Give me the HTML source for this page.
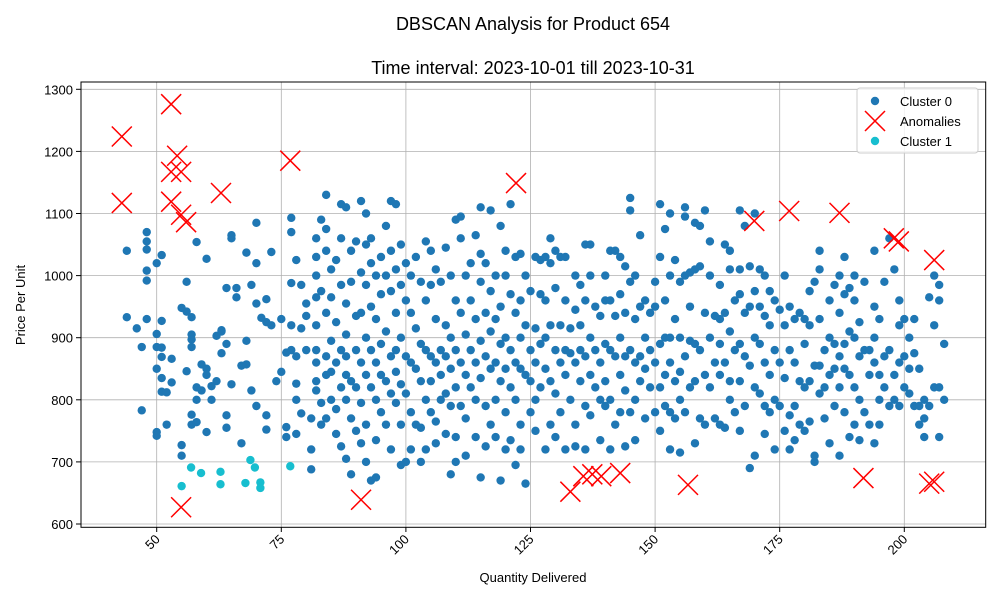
<!DOCTYPE html>
<html><head><meta charset="utf-8"><style>
body{margin:0;background:#fff;}
svg{display:block;font-family:"Liberation Sans","DejaVu Sans",sans-serif;}
</style></head><body>
<svg id="chart" width="1000" height="600" viewBox="0 0 1000 600" xmlns="http://www.w3.org/2000/svg">
<rect width="1000" height="600" fill="#fff"/>
<text x="533" y="30" text-anchor="middle" font-size="18" fill="#000">DBSCAN Analysis for Product 654</text>
<text x="533" y="74" text-anchor="middle" font-size="18" fill="#000">Time interval: 2023-10-01 till 2023-10-31</text>
<g id="grid"></g>
<g id="marks"></g>
<rect x="81" y="82" width="904.7" height="445.3" fill="none" stroke="#000" stroke-width="1"/>
<g id="axes"></g>
<text x="533" y="582" text-anchor="middle" font-size="13">Quantity Delivered</text>
<text transform="translate(25,305) rotate(-90)" text-anchor="middle" font-size="13">Price Per Unit</text>
<g>
<rect x="857" y="88" width="121" height="65" rx="3" fill="#fff" fill-opacity="0.8" stroke="#ccc"/>
<g><circle cx="875" cy="101" r="4.2" fill="#1f77b4"/><text x="900" y="106" font-size="13">Cluster 0</text></g>
<g><path d="M865,111 L885,131 M885,111 L865,131" stroke="red" stroke-width="1.5"/><text x="900" y="126" font-size="13">Anomalies</text></g>
<g><circle cx="875" cy="141" r="4.2" fill="#17becf"/><text x="900" y="146" font-size="13">Cluster 1</text></g>
</g>
</svg>
<script>
const xTicks=[50,75,100,125,150,175,200];
const yTicks=[600,700,800,900,1000,1100,1200,1300];
const c0x=[44,44,46,47,47,48,48,48,48,48,48,50,50,50,50,50,50,51,51,51,51,51,51,52,52,53,53,
55,56,57,56,55,55,56,57,57,57,57,57,58,58,58,58,59,59,60,60,60,60,61,61,62,62,63,63,63,64,64,64,64,65,65,65,66,66,67,67,68,68,68,69,69,70,70,70,70,71,72,72,72,72,73,73,74,75,75,76,76,76,77,77,77,77,77,78,78,78,78,78,79,79,79,80,80,80,81,81,81,
82,82,82,82,82,82,82,82,82,83,83,83,83,84,84,84,84,84,84,84,85,85,85,85,85,86,86,86,86,86,87,87,87,87,87,87,88,88,88,88,88,88,88,89,89,89,89,89,90,90,90,90,90,
91,91,91,91,91,91,92,92,92,92,92,92,92,93,93,93,93,93,93,94,94,94,94,94,94,95,95,95,95,95,96,96,96,96,96,97,97,97,97,97,97,98,98,98,98,98,98,99,99,99,99,99,99,100,100,100,100,100,
101,101,101,101,101,102,102,102,102,103,103,103,103,103,104,104,104,104,104,105,105,105,105,105,106,106,106,106,106,107,107,107,107,108,108,108,108,108,109,109,109,109,109,110,110,110,110,110,110,
111,111,111,111,111,112,112,112,112,112,113,113,113,113,114,114,114,114,114,115,115,115,115,115,115,116,116,116,116,116,117,117,117,117,117,118,118,118,118,118,119,119,119,119,119,120,120,120,120,120,120,
121,121,121,121,121,122,122,122,122,122,123,123,123,123,123,123,124,124,124,124,125,125,125,125,126,126,126,126,126,127,127,127,127,128,128,128,128,128,129,129,129,129,129,130,130,130,130,130,
131,131,131,131,132,132,132,132,132,133,133,133,134,134,134,134,134,135,135,135,135,136,136,136,136,136,137,137,137,137,137,138,138,138,139,139,139,139,140,140,140,140,140,
141,141,141,141,141,142,142,142,142,143,143,143,143,143,144,144,144,144,144,145,145,145,145,145,146,146,146,146,146,147,147,147,147,148,148,148,148,149,149,149,150,150,150,150,
151,151,151,151,151,152,152,152,152,152,153,153,153,153,153,153,154,154,154,154,155,155,155,155,155,156,156,156,156,156,157,157,157,157,158,158,158,158,158,159,159,159,159,160,160,160,160,
161,161,161,161,162,162,162,163,163,163,163,163,164,164,164,164,165,165,165,165,165,166,166,166,167,167,167,167,167,167,168,168,168,168,169,169,169,169,170,170,170,170,170,
171,171,171,171,172,172,172,172,172,173,173,173,173,174,174,174,174,175,175,175,176,176,176,176,177,177,177,177,178,178,178,178,179,179,179,180,180,180,180,
181,181,181,181,182,182,182,182,183,183,183,183,183,184,184,184,185,185,185,185,186,186,186,186,187,187,187,187,187,188,188,188,188,188,189,189,189,189,190,190,190,190,190,
191,191,191,191,192,192,192,193,193,193,194,194,194,194,194,195,195,195,195,196,196,196,197,197,197,198,198,198,199,199,199,199,200,200,200,
201,201,201,202,202,202,203,203,203,204,204,204,205,205,206,206,206,207,207,207,207,208,208];
const c0y=[1040,933,915,783,885,992,1070,1055,1042,1008,930,1020,906,885,850,748,742,1033,927,884,869,835,813,812,760,866,828,
948,942,933,990,727,710,846,905,897,885,760,776,764,1054,820,800,857,815,1027,850,840,748,800,822,903,830,912,875,910,980,890,775,755,1060,1065,825,980,965,855,730,895,857,1037,985,815,1085,955,1020,790,932,962,925,775,752,1038,920,830,845,930,876,756,740,1093,1070,988,920,880,870,826,1025,800,745,985,915,778,955,935,880,720,688,770,
1060,1030,1000,965,920,880,860,830,815,1090,975,795,760,1130,1075,1040,940,870,840,770,1010,965,895,845,800,1025,925,860,785,745,1115,1060,985,880,820,725,1110,955,905,870,840,800,705,1040,990,830,770,680,1055,935,880,820,750,
1120,1005,940,860,795,730,1100,1050,985,900,840,760,700,1060,1020,950,880,820,670,1000,930,860,800,735,675,1030,970,890,840,780,1080,1000,910,830,760,1120,1040,975,870,810,720,1115,1010,940,880,845,795,1050,985,900,825,760,695,1020,960,870,810,700,
1000,940,860,780,720,1030,915,850,760,990,890,830,755,700,1055,960,880,800,720,1040,985,870,830,780,1010,930,860,765,730,990,880,840,800,1045,920,870,810,745,1000,900,850,790,680,1090,960,880,820,740,700,
1095,1060,940,860,790,1000,905,840,770,710,1020,960,880,820,1065,930,860,800,740,1110,1035,990,895,835,675,1020,940,870,790,725,1105,975,910,850,760,1000,930,860,800,740,1080,950,890,830,670,1040,1000,900,850,780,720,
1115,970,880,820,735,1030,940,860,800,695,1035,960,900,850,760,720,1000,920,840,665,975,880,830,780,1030,915,860,800,750,1025,970,890,820,1030,960,900,850,720,1060,1020,920,830,760,1040,980,880,810,740,
1030,920,860,780,1030,960,880,840,720,915,875,800,1000,945,860,760,725,985,920,880,830,1050,960,870,790,720,1050,1000,900,840,775,950,880,820,935,860,800,735,1000,960,890,830,790,
1040,960,880,800,720,1040,935,870,760,1030,970,900,840,780,1015,940,870,815,725,1125,1105,990,880,780,1000,930,860,800,735,1065,950,870,830,960,900,850,770,940,880,820,990,950,860,780,
1115,1030,890,820,750,1075,960,900,840,790,1100,1000,900,860,780,720,1025,930,830,770,990,900,845,800,715,1110,1095,1000,870,780,1005,950,895,820,1085,1010,890,830,730,1080,1015,880,770,1105,940,840,760,
1055,1000,900,820,935,860,770,985,930,890,840,760,1050,940,860,755,1040,1010,910,830,800,960,880,780,1105,1010,970,890,830,750,1080,940,870,790,1015,950,855,690,1100,975,900,820,710,
1010,950,890,810,1000,935,860,790,745,975,920,840,780,960,880,800,720,945,860,790,1000,920,835,750,950,880,775,720,930,860,790,735,940,830,760,930,890,820,750,
975,920,830,765,990,855,700,710,1040,1010,930,855,810,880,820,770,960,900,840,730,985,890,850,790,1000,940,870,820,710,1030,970,890,850,780,980,910,840,740,1000,960,900,820,760,
925,870,800,735,990,880,780,880,840,760,1040,950,900,860,730,930,840,800,760,990,870,820,1060,880,790,1010,840,800,960,920,860,790,930,870,820,
900,850,810,930,875,790,850,790,760,770,740,800,965,790,1000,920,820,985,960,820,740,890,800];
const anX=[43,43,52.9,52.9,54.1,54.9,52.9,54.9,55.9,62.9,76.8,122.1,54.9,91,133,135.6,137.4,139.2,143,156.6,169.9,176.9,187,197.9,198.9,206,191.8,205,206];
const anY=[1224,1117,1276,1167,1193,1167,1119,1098,1086,1133,1185,1149,627,639,652,677,680,677,682,663,1088,1104,1101,1060,1055,1025,674,665,668];
const c1x=[55,56.9,58.9,62.8,62.8,67.8,68.8,69.7,70.8,70.8,76.8];
const c1y=[661,691,682,684,664,666,703,691,667,658,693];

const NS='http://www.w3.org/2000/svg';
function sx(v){return 156.7+(v-50)*4.984;}
function sy(v){return 524-(v-600)*0.621;}
function mk(tag,attrs,parent){const e=document.createElementNS(NS,tag);for(const k in attrs)e.setAttribute(k,attrs[k]);parent.appendChild(e);return e;}
const grid=document.getElementById('grid'),axes=document.getElementById('axes'),marks=document.getElementById('marks');
xTicks.forEach(t=>{
  const l=mk('line',{x1:sx(t),x2:sx(t),y1:82,y2:527.3,stroke:'#b0b0b0','stroke-width':0.8},grid);
  
  
  const tk=mk('line',{x1:sx(t),x2:sx(t),y1:527.3,y2:532,stroke:'#000'},axes);
  
  
  const tx=mk('text',{x:sx(t)+4,y:540,'font-size':13,'text-anchor':'end',transform:'rotate(-45 '+(sx(t)+4)+' 540)'},axes);
  tx.textContent=t;
  
  
});
yTicks.forEach(t=>{
  const l=mk('line',{x1:81,x2:985.7,y1:sy(t),y2:sy(t),stroke:'#b0b0b0','stroke-width':0.8},grid);
  
  
  const tk=mk('line',{x1:76,x2:81,y1:sy(t),y2:sy(t),stroke:'#000'},axes);
  
  
  const tx=mk('text',{x:73,y:sy(t)+5,'font-size':13,'text-anchor':'end'},axes);
  tx.textContent=t;
  
  
});
c0x.forEach((v,i)=>{
  const c=mk('circle',{cx:sx(v),cy:sy(c0y[i]),r:4.2,fill:'#1f77b4'},marks);
  
  
});
anX.forEach((v,i)=>{
  const x=sx(v),y=sy(anY[i]);
  const p=mk('path',{d:`M${x-10},${y-10}L${x+10},${y+10}M${x+10},${y-10}L${x-10},${y+10}`,stroke:'red','stroke-width':1.5},marks);
  
  
});
c1x.forEach((v,i)=>{
  const c=mk('circle',{cx:sx(v),cy:sy(c1y[i]),r:4.2,fill:'#17becf'},marks);
  
  
});
</script>
</body></html>
